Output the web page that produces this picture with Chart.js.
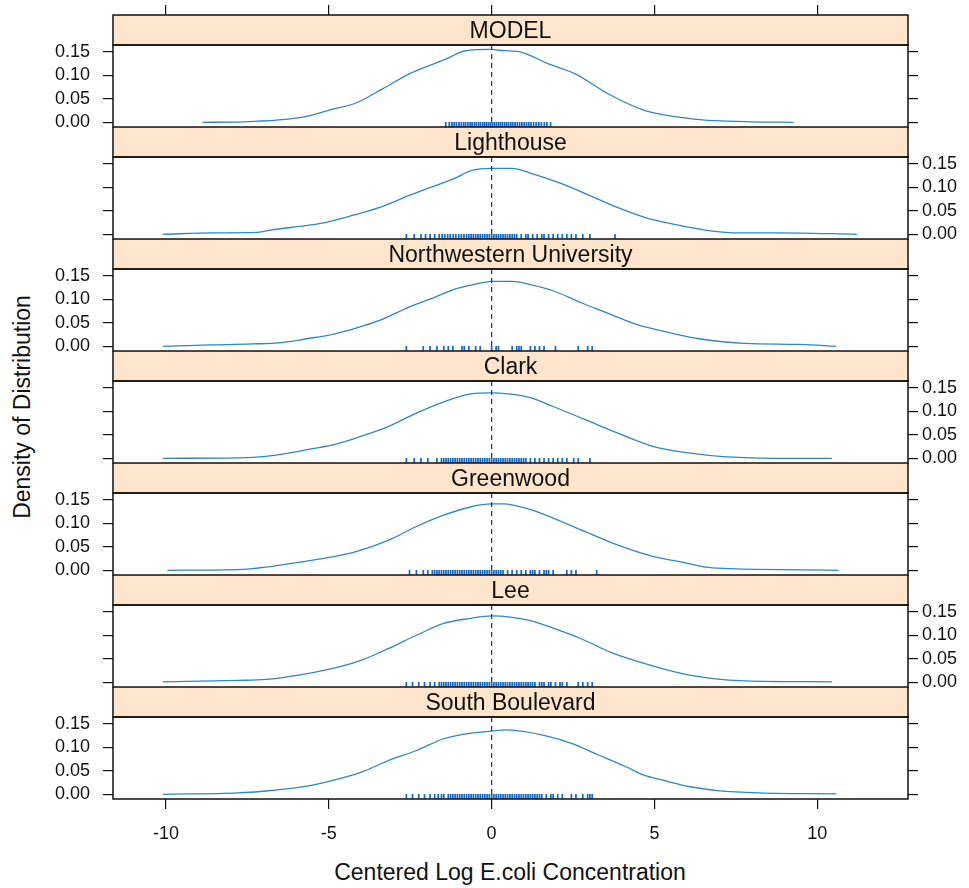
<!DOCTYPE html>
<html>
<head>
<meta charset="utf-8">
<script src="https://cdn.jsdelivr.net/npm/chart.js@4.4.0/dist/chart.umd.min.js"></script>
<style>
  body { margin: 0; background: #fff; width: 969px; height: 888px; position: relative; overflow: hidden;
         font-family: "Liberation Sans", Arial, sans-serif; color: #111; }
  canvas { position: absolute; left: 0; }
  .title { position: absolute; white-space: nowrap; font-size: 23px; line-height: 23px; }
  #ytitle { left: 22px; top: 407px; transform: translate(-50%, -50%) rotate(-90deg); }
  #xtitle { left: 510px; top: 872px; transform: translate(-50%, -50%); }
</style>
</head>
<body>
<div id="ytitle" class="title">Density of Distribution</div>
<div id="xtitle" class="title">Centered Log E.coli Concentration</div>
<script>
// tick labels
const xTicks = [-10, -5, 0, 5, 10];
const yTicks = [0, 0.05, 0.10, 0.15];

// density curves (x, density)
const modelX = [-8.88, -7.63, -5.80, -4.88, -4.16, -3.35, -2.53, -1.41, -0.80, 0, 0.22, 0.84, 1.75, 2.57, 3.59, 4.71, 6.04, 6.86, 7.98, 9.27];
const modelY = [0.000, 0.001, 0.011, 0.028, 0.041, 0.071, 0.103, 0.134, 0.152, 0.155, 0.153, 0.150, 0.124, 0.103, 0.060, 0.025, 0.0085, 0.0034, 0.001, 0.000];

const lighthouseX = [-10.1, -8.56, -7.23, -6.80, -5.54, -5.12, -4.28, -3.44, -2.59, -1.75, -1.19, -0.63, 0, 0.63, 1.19, 2.17, 3.02, 3.86, 4.70, 5.54, 6.66, 7.64, 8.77, 11.22];
const lighthouseY = [0.000, 0.003, 0.004, 0.009, 0.020, 0.025, 0.040, 0.057, 0.081, 0.103, 0.117, 0.135, 0.140, 0.140, 0.130, 0.107, 0.082, 0.057, 0.036, 0.022, 0.008, 0.003, 0.003, 0.000];

const northwesternX = [-10.1, -8.63, -7.36, -6.45, -5.68, -4.84, -4.14, -3.44, -2.45, -1.75, -1.19, -0.63, 0, 0.63, 1.19, 1.89, 2.73, 3.58, 4.42, 5.40, 6.38, 7.78, 9.47, 10.59];
const northwesternY = [0.000, 0.003, 0.005, 0.008, 0.016, 0.026, 0.039, 0.055, 0.086, 0.104, 0.120, 0.130, 0.138, 0.138, 0.131, 0.118, 0.093, 0.070, 0.047, 0.030, 0.016, 0.006, 0.004, 0.000];

const clarkX = [-10.1, -7.78, -6.94, -6.24, -5.54, -4.84, -4.00, -3.16, -2.31, -1.47, -0.63, 0, 0.49, 1.19, 1.89, 2.88, 3.86, 4.98, 6.10, 7.22, 9.05, 10.45];
const clarkY = [0.000, 0.001, 0.004, 0.011, 0.020, 0.029, 0.047, 0.068, 0.096, 0.120, 0.137, 0.139, 0.137, 0.129, 0.110, 0.082, 0.054, 0.025, 0.011, 0.003, 0.000, 0.000];

const greenwoodX = [-9.96, -7.64, -6.80, -5.82, -4.84, -4.14, -3.16, -2.31, -1.47, -0.63, 0, 0.35, 1.19, 1.89, 2.88, 3.86, 4.98, 5.82, 6.66, 7.50, 9.61, 10.66];
const greenwoodY = [0.000, 0.002, 0.008, 0.018, 0.029, 0.040, 0.064, 0.093, 0.117, 0.135, 0.141, 0.141, 0.129, 0.111, 0.082, 0.054, 0.029, 0.018, 0.006, 0.003, 0.001, 0.000];

const leeX = [-10.1, -7.78, -6.94, -6.24, -5.54, -4.84, -4.00, -3.16, -2.31, -1.47, -0.63, 0, 0.63, 1.19, 1.89, 2.73, 3.72, 4.70, 5.82, 6.80, 7.78, 10.45];
const leeY = [0.001, 0.004, 0.006, 0.012, 0.020, 0.030, 0.047, 0.072, 0.100, 0.125, 0.136, 0.141, 0.138, 0.131, 0.115, 0.093, 0.062, 0.040, 0.019, 0.008, 0.003, 0.001];

const southX = [-10.1, -7.78, -6.94, -6.24, -5.54, -4.84, -4.00, -3.16, -2.31, -1.47, -0.63, 0, 0.42, 0.91, 1.61, 2.45, 3.30, 4.14, 4.70, 5.26, 6.10, 6.94, 8.20, 10.59];
const southY = [0.000, 0.003, 0.007, 0.012, 0.019, 0.030, 0.047, 0.072, 0.093, 0.118, 0.130, 0.134, 0.137, 0.134, 0.125, 0.108, 0.083, 0.058, 0.040, 0.030, 0.016, 0.008, 0.003, 0.001];

// rug (observed values) per site
const modelRug = [-1.41, -1.30, -1.22, -1.15, -1.08, -1.00, -0.93, -0.86, -0.80, -0.73, -0.66, -0.60, -0.53, -0.47, -0.40, -0.34, -0.27, -0.21, -0.15, -0.09, -0.03, 0.03, 0.09, 0.15, 0.21, 0.27, 0.33, 0.40, 0.46, 0.52, 0.59, 0.65, 0.72, 0.79, 0.86, 0.93, 1.00, 1.07, 1.14, 1.21, 1.29, 1.37, 1.45, 1.53, 1.62, 1.70, 1.81];
const lighthouseRug = [-2.62, -2.38, -2.17, -2.03, -1.89, -1.75, -1.61, -1.52, -1.44, -1.35, -1.27, -1.18, -1.10, -1.01, -0.93, -0.85, -0.77, -0.70, -0.63, -0.56, -0.49, -0.42, -0.35, -0.28, -0.21, -0.14, -0.07, 0.00, 0.07, 0.14, 0.21, 0.28, 0.35, 0.42, 0.49, 0.56, 0.63, 0.70, 0.77, 0.91, 1.05, 1.12, 1.26, 1.40, 1.54, 1.61, 1.75, 1.89, 2.03, 2.17, 2.31, 2.45, 2.59, 2.80, 3.02, 3.79];
const northwesternRug = [-2.62, -2.10, -1.89, -1.68, -1.47, -1.33, -1.19, -0.91, -0.84, -0.70, -0.49, -0.35, 0.00, 0.14, 0.21, 0.63, 0.77, 0.84, 0.91, 1.19, 1.33, 1.47, 1.61, 1.96, 2.66, 2.95, 3.09];
const clarkRug = [-2.62, -2.38, -2.17, -1.96, -1.68, -1.54, -1.47, -1.40, -1.33, -1.26, -1.19, -1.12, -1.05, -0.98, -0.91, -0.84, -0.77, -0.70, -0.63, -0.56, -0.49, -0.42, -0.35, -0.28, -0.21, -0.14, -0.07, 0.00, 0.07, 0.14, 0.21, 0.28, 0.35, 0.42, 0.49, 0.56, 0.63, 0.70, 0.77, 0.84, 0.91, 0.98, 1.05, 1.19, 1.33, 1.47, 1.61, 1.75, 1.89, 2.03, 2.17, 2.31, 2.52, 2.66, 3.02];
const greenwoodRug = [-2.52, -2.31, -2.10, -1.96, -1.82, -1.75, -1.68, -1.61, -1.54, -1.47, -1.40, -1.33, -1.26, -1.19, -1.12, -1.05, -0.98, -0.91, -0.84, -0.77, -0.70, -0.63, -0.56, -0.49, -0.42, -0.35, -0.28, -0.21, -0.14, -0.07, 0.00, 0.07, 0.14, 0.21, 0.28, 0.35, 0.49, 0.63, 0.77, 0.91, 1.05, 1.19, 1.26, 1.33, 1.47, 1.61, 1.68, 1.75, 1.89, 2.31, 2.45, 2.59, 3.23];
const leeRug = [-2.62, -2.43, -2.24, -2.06, -1.89, -1.75, -1.61, -1.54, -1.47, -1.40, -1.33, -1.26, -1.19, -1.12, -1.05, -0.98, -0.91, -0.84, -0.77, -0.70, -0.63, -0.56, -0.49, -0.42, -0.35, -0.28, -0.21, -0.14, -0.07, 0.00, 0.07, 0.14, 0.21, 0.28, 0.35, 0.42, 0.49, 0.56, 0.63, 0.70, 0.77, 0.84, 0.91, 0.98, 1.05, 1.12, 1.19, 1.26, 1.33, 1.47, 1.54, 1.61, 1.75, 1.82, 1.96, 2.10, 2.17, 2.31, 2.66, 2.80, 2.95, 3.09];
const southRug = [-2.62, -2.43, -2.24, -2.06, -1.89, -1.75, -1.64, -1.54, -1.47, -1.33, -1.26, -1.19, -1.12, -1.05, -0.98, -0.91, -0.84, -0.77, -0.70, -0.63, -0.56, -0.49, -0.42, -0.35, -0.28, -0.21, -0.14, -0.07, 0.00, 0.07, 0.14, 0.21, 0.28, 0.35, 0.42, 0.49, 0.56, 0.63, 0.70, 0.77, 0.84, 0.91, 0.98, 1.05, 1.12, 1.19, 1.26, 1.33, 1.40, 1.47, 1.54, 1.68, 1.82, 1.89, 2.03, 2.17, 2.45, 2.59, 2.80, 2.95, 3.02, 3.09];

const sites = ['MODEL', 'Lighthouse', 'Northwestern University', 'Clark', 'Greenwood', 'Lee', 'South Boulevard'];
const curveX = [modelX, lighthouseX, northwesternX, clarkX, greenwoodX, leeX, southX];
const curveY = [modelY, lighthouseY, northwesternY, clarkY, greenwoodY, leeY, southY];
const rugs = [modelRug, lighthouseRug, northwesternRug, clarkRug, greenwoodRug, leeRug, southRug];

// axis ranges and look
const xMin = -11.63, xMax = 12.79;
const yMin = -0.010, yMax = 0.1642;
const rugY = -0.0045;
const lineColor = '#2f87c4';
const rugColor = '#1570d6';
const stripFill = '#ffe5cc';
const fontFamily = '"Liberation Sans", Arial, sans-serif';
const blockTop = 15, stripH = 30, panelH = 82;

Chart.defaults.font.family = fontFamily;

// no extra room for overhanging labels: the panels sit edge to edge
const noPad = s => { s.paddingTop = 0; s.paddingBottom = 0; s.paddingLeft = 0; s.paddingRight = 0; };

const panelFrame = {
  id: 'panelFrame',
  afterDatasetsDraw(chart, args, opts) {
    const { ctx, chartArea: a, scales } = chart;
    const x0 = scales.x.getPixelForValue(0);
    ctx.save();
    ctx.strokeStyle = '#2c3a7a';
    ctx.lineWidth = 1.3;
    ctx.setLineDash([5, 4]);
    ctx.beginPath();
    ctx.moveTo(x0, a.top);
    ctx.lineTo(x0, a.bottom);
    ctx.stroke();
    ctx.setLineDash([]);
    // strip with the site name
    ctx.fillStyle = stripFill;
    ctx.fillRect(a.left, a.top - stripH, a.width, stripH);
    ctx.strokeStyle = '#111';
    ctx.lineWidth = 1.5;
    ctx.strokeRect(a.left, a.top - stripH, a.width, stripH);
    ctx.strokeRect(a.left, a.top, a.width, a.height);
    ctx.fillStyle = '#111';
    ctx.font = '23px ' + fontFamily;
    ctx.textAlign = 'center';
    ctx.textBaseline = 'middle';
    ctx.fillText(opts.label, (a.left + a.right) / 2, a.top - stripH / 2 + 2);
    ctx.restore();
  }
};

sites.forEach((name, i) => {
  const first = i === 0, last = i === sites.length - 1;
  const leftLabels = i % 2 === 0;
  const top = first ? 0 : blockTop + i * (stripH + panelH);
  const height = last ? 888 - top : blockTop + (i + 1) * (stripH + panelH) - top + 10;

  const cv = document.createElement('canvas');
  cv.width = 969;
  cv.height = height;
  cv.style.top = top + 'px';
  document.body.appendChild(cv);

  const yAxis = (pos) => ({
    type: 'linear', position: pos, min: yMin, max: yMax,
    afterBuildTicks: s => { s.ticks = yTicks.map(v => ({ value: v })); },
    afterFit: s => { s.width = pos === 'left' ? 113 : 61; noPad(s); },
    grid: { drawOnChartArea: false, drawTicks: true, tickLength: 10, color: '#111', lineWidth: 1.2 },
    border: { display: false },
    ticks: {
      font: { size: 18 },
      autoSkip: false,
      padding: pos === 'left' ? 13 : 4,
      color: (pos === 'left') === leftLabels ? '#111' : 'rgba(0,0,0,0)',
      callback: v => v.toFixed(2)
    }
  });

  const scales = {
    x: {
      type: 'linear', position: 'bottom', min: xMin, max: xMax,
      afterBuildTicks: s => { s.ticks = xTicks.map(v => ({ value: v })); },
      afterFit: s => { s.height = last ? height - stripH - panelH : 0; noPad(s); },
      grid: { drawOnChartArea: false, drawTicks: last, tickLength: 10, color: '#111', lineWidth: 1.2 },
      border: { display: false },
      ticks: { display: last, autoSkip: false, font: { size: 18 }, color: '#111', padding: 14, maxRotation: 0 }
    },
    y: yAxis('left'),
    y2: yAxis('right')
  };
  if (first) {
    scales.xTop = {
      type: 'linear', position: 'top', min: xMin, max: xMax,
      afterBuildTicks: s => { s.ticks = xTicks.map(v => ({ value: v })); },
      afterFit: s => { s.height = 40; noPad(s); },
      grid: { drawOnChartArea: false, drawTicks: true, tickLength: 40, color: '#111', lineWidth: 1.2 },
      border: { display: false },
      ticks: { display: false }
    };
  }

  new Chart(cv.getContext('2d'), {
    type: 'line',
    data: {
      datasets: [
        {
          data: curveX[i].map((x, k) => ({ x: x, y: curveY[i][k] })),
          borderColor: lineColor, borderWidth: 1.3, pointRadius: 0,
          cubicInterpolationMode: 'monotone', xAxisID: 'x', yAxisID: 'y'
        },
        {
          type: 'scatter',
          data: rugs[i].map(x => ({ x: x, y: rugY })),
          pointStyle: 'line', rotation: 90, pointRadius: 2.5, pointHoverRadius: 2.5,
          borderColor: rugColor, backgroundColor: rugColor, borderWidth: 1.8,
          showLine: false, xAxisID: 'x', yAxisID: 'y'
        }
      ]
    },
    options: {
      responsive: false, animation: false, devicePixelRatio: 1,
      layout: { padding: { top: first ? 5 : stripH, bottom: last ? 0 : 10, left: 0, right: 0 } },
      scales: scales,
      plugins: { legend: { display: false }, tooltip: { enabled: false }, panelFrame: { label: name } }
    },
    plugins: [panelFrame]
  });
});
</script>
</body>
</html>
